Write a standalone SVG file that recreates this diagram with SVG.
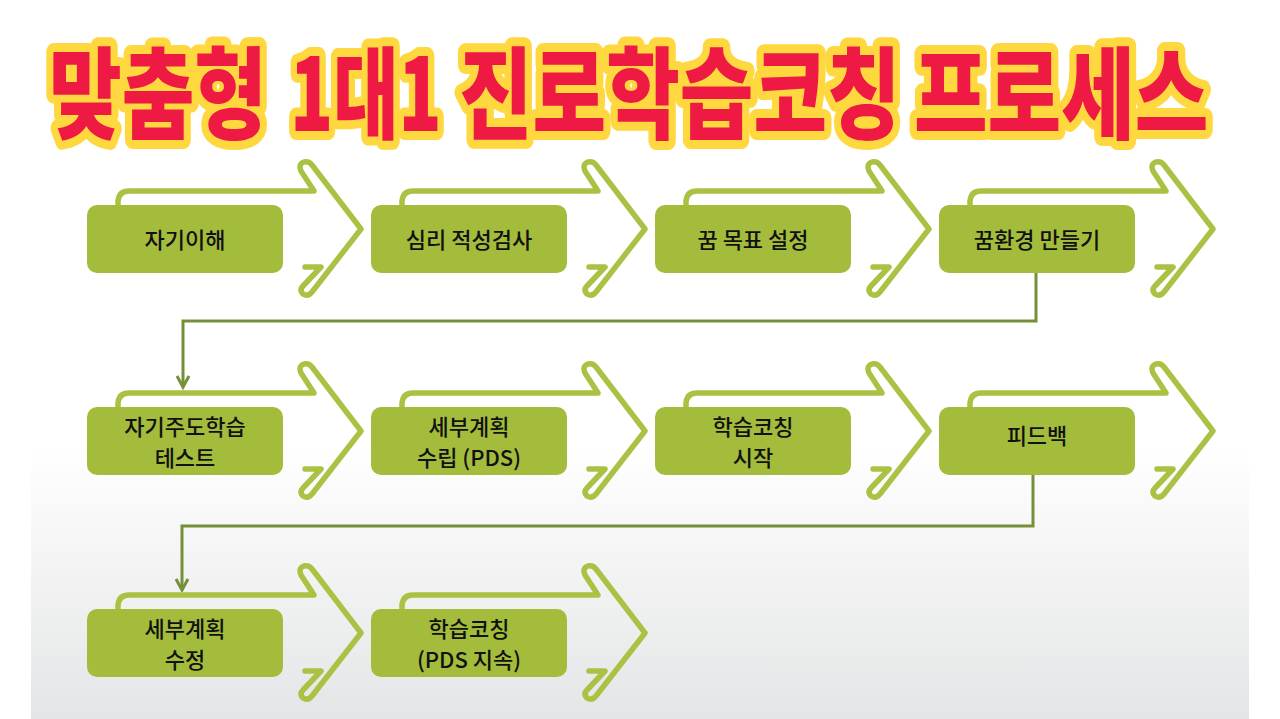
<svg xmlns="http://www.w3.org/2000/svg" width="1280" height="719" viewBox="0 0 1280 719">
<defs>
  <linearGradient id="bg" x1="0" y1="0" x2="0" y2="1">
    <stop offset="0" stop-color="#ffffff"/>
    <stop offset="0.62" stop-color="#ffffff"/>
    <stop offset="1" stop-color="#e4e5e6"/>
  </linearGradient>
  <path id="chev" d="M 118 215 L 118 201 Q 119 191 129 191 L 314 191 L 301 171 Q 298 164 304 162 Q 309 161 312 165 L 361 229 L 312 292 Q 308 297 303 294 Q 299 290 303 286 L 321 267 L 305 267"/>
  <marker id="ah" markerUnits="userSpaceOnUse" markerWidth="18" markerHeight="18" refX="14" refY="9" orient="auto" viewBox="0 0 18 18">
    <path d="M 3 3 L 14 9 L 3 15" fill="none" stroke="#76903A" stroke-width="3" stroke-linejoin="miter"/>
  </marker>
  <style>
    .arr { fill: none; stroke: #A9C243; stroke-width: 5.5; stroke-linejoin: round; stroke-linecap: round; }
    .box { fill: #A4BC3B; }
    .lbl { font-family: "Noto Sans CJK KR", "Noto Sans", sans-serif; font-size: 22px; font-weight: 500; fill: #111; text-anchor: middle; }
    .conn { fill: none; stroke: #76903A; stroke-width: 3; }
    .tt { font-family: "Noto Sans CJK KR", sans-serif; font-size: 100px; font-weight: 900; fill: #EE1A43; stroke: #FFD840; stroke-width: 18; stroke-linejoin: round; paint-order: stroke; }
  </style>
</defs>
<rect width="1280" height="719" fill="#ffffff"/>
<rect x="31" y="0" width="1218" height="719" fill="url(#bg)"/>

<g id="title">
  <text class="tt" transform="translate(49,131) scale(0.79,1)">맞춤형</text>
  <text class="tt" transform="translate(290,131) scale(0.71,1)">1대1</text>
  <text class="tt" transform="translate(459,131) scale(0.80,1)">진로학습코칭</text>
  <text class="tt" transform="translate(914,131) scale(0.80,1)">프로세스</text>
</g>

<g id="connectors">
  <path class="conn" d="M 1036 273 V 321 H 183 V 387" marker-end="url(#ah)"/>
  <path class="conn" d="M 1033 475 V 526 H 182 V 590" marker-end="url(#ah)"/>
</g>

<g id="n1">
  <use href="#chev" class="arr"/>
  <rect class="box" x="87" y="205" width="196" height="68" rx="10"/>
  <text class="lbl" x="185" y="248">자기이해</text>
</g>
<g id="n2" transform="translate(284,0)">
  <use href="#chev" class="arr"/>
  <rect class="box" x="87" y="205" width="196" height="68" rx="10"/>
  <text class="lbl" x="185" y="248">심리 적성검사</text>
</g>
<g id="n3" transform="translate(568,0)">
  <use href="#chev" class="arr"/>
  <rect class="box" x="87" y="205" width="196" height="68" rx="10"/>
  <text class="lbl" x="185" y="248">꿈 목표 설정</text>
</g>
<g id="n4" transform="translate(852,0)">
  <use href="#chev" class="arr"/>
  <rect class="box" x="87" y="205" width="196" height="68" rx="10"/>
  <text class="lbl" x="185" y="248">꿈환경 만들기</text>
</g>

<g id="n5" transform="translate(0,202)">
  <use href="#chev" class="arr"/>
  <rect class="box" x="87" y="205" width="196" height="68" rx="10"/>
  <text class="lbl" x="185" y="233">자기주도학습</text>
  <text class="lbl" x="185" y="264">테스트</text>
</g>
<g id="n6" transform="translate(284,202)">
  <use href="#chev" class="arr"/>
  <rect class="box" x="87" y="205" width="196" height="68" rx="10"/>
  <text class="lbl" x="185" y="233">세부계획</text>
  <text class="lbl" x="185" y="264">수립 (PDS)</text>
</g>
<g id="n7" transform="translate(568,202)">
  <use href="#chev" class="arr"/>
  <rect class="box" x="87" y="205" width="196" height="68" rx="10"/>
  <text class="lbl" x="185" y="233">학습코칭</text>
  <text class="lbl" x="185" y="264">시작</text>
</g>
<g id="n8" transform="translate(852,202)">
  <use href="#chev" class="arr"/>
  <rect class="box" x="87" y="205" width="196" height="68" rx="10"/>
  <text class="lbl" x="185" y="242">피드백</text>
</g>

<g id="n9" transform="translate(0,404)">
  <use href="#chev" class="arr"/>
  <rect class="box" x="87" y="205" width="196" height="68" rx="10"/>
  <text class="lbl" x="185" y="233">세부계획</text>
  <text class="lbl" x="185" y="264">수정</text>
</g>
<g id="n10" transform="translate(284,404)">
  <use href="#chev" class="arr"/>
  <rect class="box" x="87" y="205" width="196" height="68" rx="10"/>
  <text class="lbl" x="185" y="233">학습코칭</text>
  <text class="lbl" x="185" y="264">(PDS 지속)</text>
</g>
</svg>
